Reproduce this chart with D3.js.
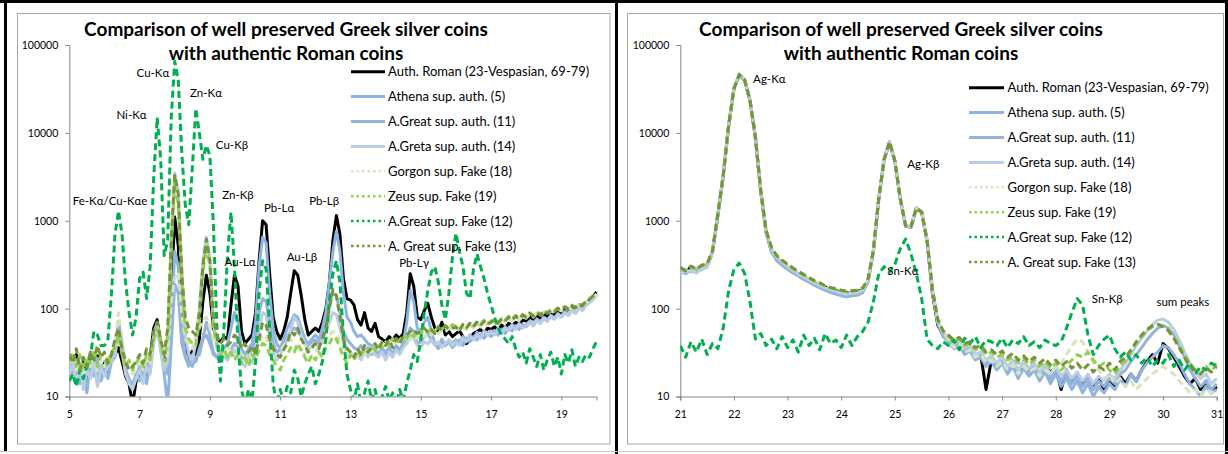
<!DOCTYPE html>
<html>
<head>
<meta charset="utf-8">
<script src="https://cdn.jsdelivr.net/npm/d3@7"></script>
<style>
  html, body { margin: 0; padding: 0; background: #fff; }
  svg { display: block; font-family: Lato, "Open Sans", "Liberation Sans", sans-serif; }
</style>
</head>
<body>
<svg id="chart" width="1228" height="454"></svg>
<script>
// Energy calibration of the sampled spectra (keV): first channel and channel width
const lowStart = 5.0;
const highStart = 21.0;
const channelStep = 0.1;

const seriesNames = [
  "Auth. Roman (23-Vespasian, 69-79)",
  "Athena sup. auth. (5)",
  "A.Great sup. auth. (11)",
  "A.Greta sup. auth. (14)",
  "Gorgon sup. Fake (18)",
  "Zeus sup. Fake (19)",
  "A.Great sup. Fake (12)",
  "A. Great sup. Fake (13)"
];
const seriesColors = ["#000000", "#8DB4E2", "#95B3D7", "#B9CDE5", "#D7E4BD", "#92D050", "#00B050", "#77933C"];
const seriesDotted = [false, false, false, false, true, true, true, true];

const titleLines = ["Comparison  of well preserved Greek silver coins", "with authentic Roman coins"];
const yTicks = [10, 100, 1000, 10000, 100000];
const lowTicks = [5, 7, 9, 11, 13, 15, 17, 19];
const highTicks = [21, 22, 23, 24, 25, 26, 27, 28, 29, 30, 31];

// counts, 5.0 - 20.0 keV
const romanLow = [
  28,22,30,18,25,14,26,20,29,17,
  24,19,27,30,36,25,17,14,8,15,
  18,22,16,28,60,75,40,24,30,150,
  1100,520,60,35,28,33,30,45,120,240,
  150,60,45,42,48,45,110,240,180,55,
  40,45,50,90,350,1000,900,250,80,55,
  45,55,80,150,270,240,140,75,50,55,
  60,55,70,100,200,600,1150,700,220,130,
  125,110,75,65,90,60,55,68,48,45,
  42,48,44,50,46,52,90,250,180,80,
  75,95,115,80,60,55,70,50,55,48,
  52,56,48,40,45,52,55,58,52,60,
  58,62,56,65,60,68,64,70,66,74,
  72,80,76,84,78,88,82,90,86,94,
  88,98,92,104,96,110,102,118,124,136,
  155
];
const athenaLow = [
  22,18,26,14,20,11,24,17,27,15,
  20,16,25,28,72,40,20,16,13,18,
  15,20,14,25,50,70,35,18,8,40,
  190,150,40,28,22,30,25,35,45,50,
  40,30,28,32,35,40,60,90,70,35,
  30,35,40,70,300,650,560,150,60,40,
  35,45,60,70,85,80,60,45,40,45,
  50,45,60,90,200,450,760,450,150,80,
  70,55,48,50,45,40,38,36,33,35,
  32,36,30,38,34,40,70,160,120,60,
  55,70,80,55,40,35,45,38,42,36,
  40,44,38,46,42,48,44,50,46,52,
  48,55,50,58,52,60,56,64,58,66,
  62,70,64,74,68,78,72,82,76,86,
  80,90,84,96,88,102,96,110,118,128,
  145
];
const greatAuthLow = [
  20,26,16,24,14,22,18,27,15,23,
  19,24,28,32,60,36,20,15,14,17,
  22,16,24,20,45,68,38,22,18,60,
  450,300,60,30,26,22,28,30,45,70,
  50,32,28,25,30,26,34,40,36,28,
  26,30,34,45,90,130,120,70,40,32,
  34,40,48,55,60,55,48,40,36,42,
  44,40,50,70,110,150,140,90,55,45,
  40,36,34,38,32,36,30,34,30,32,
  30,34,28,36,32,38,42,60,55,40,
  42,48,52,44,40,36,42,38,44,40,
  44,40,48,44,50,46,54,48,56,52,
  56,52,60,54,62,58,66,60,68,62,
  66,72,66,76,70,80,74,84,78,88,
  82,92,86,98,90,104,98,112,120,130,
  148
];
const gretaLow = [
  18,24,14,22,12,20,16,25,13,21,
  17,22,26,30,55,32,18,14,12,16,
  20,14,22,18,40,60,34,20,25,500,
  3500,2200,300,50,30,26,40,100,350,650,
  380,70,35,28,32,26,30,34,28,24,
  22,28,24,32,55,90,85,50,32,26,
  30,36,44,58,80,70,50,40,34,38,
  40,36,44,55,70,90,85,60,42,36,
  32,28,30,26,32,28,34,30,28,32,
  26,32,28,34,30,36,40,50,46,38,
  36,42,40,44,38,42,36,40,44,38,
  42,38,46,42,48,44,50,46,54,50,
  54,50,58,52,60,56,64,58,66,60,
  64,70,64,74,68,78,72,82,76,86,
  80,90,84,96,88,102,96,108,116,126,
  140
];
const gorgonLow = [
  24,30,20,28,18,26,22,30,20,26,
  22,28,30,40,90,45,26,20,18,22,
  26,20,28,24,50,65,40,24,30,120,
  220,260,90,45,40,35,50,60,75,80,
  60,45,40,35,30,38,32,28,34,30,
  26,32,28,34,40,50,48,36,30,28,
  32,38,42,45,40,36,32,30,34,38,
  32,36,40,45,50,55,52,44,36,30,
  28,32,26,34,30,36,32,38,34,40,
  36,42,38,44,40,46,48,44,50,46,
  52,48,54,50,56,52,58,54,60,56,
  60,56,62,58,66,60,68,62,70,64,
  68,72,66,74,70,78,72,80,74,82,
  78,86,80,88,82,92,86,94,90,98,
  94,102,96,106,100,110,106,118,124,134,
  145
];
const zeusLow = [
  26,32,22,30,20,28,24,34,22,30,
  26,22,32,36,50,30,22,26,20,24,
  28,22,30,26,45,60,40,25,50,500,
  2800,1500,200,60,45,40,38,70,250,520,
  300,60,40,30,35,28,32,26,30,24,
  28,22,30,26,34,40,38,30,26,22,
  20,26,30,36,32,40,34,28,24,30,
  26,32,28,36,40,48,45,36,28,24,
  30,26,34,28,36,32,38,34,40,36,
  42,38,46,40,44,50,46,52,48,56,
  52,58,54,60,56,62,58,64,60,66,
  62,58,66,60,70,64,72,66,74,68,
  72,76,70,78,74,82,76,84,78,86,
  82,90,84,92,86,96,90,98,94,102,
  98,106,100,110,104,114,110,122,130,140,
  150
];
const fake12Low = [
  15,18,13,20,16,22,28,55,50,38,
  38,45,150,700,1300,700,200,90,50,80,
  220,260,130,300,3000,15000,5000,400,600,15000,
  65000,40000,6000,1500,900,4000,19000,10000,5000,7200,
  5500,900,60,15,60,400,1250,300,40,12,
  8,12,9,25,150,350,280,60,14,8,
  12,9,13,11,20,16,10,14,18,22,
  14,18,25,45,120,250,350,200,50,18,
  12,9,14,8,11,15,9,12,8,10,
  13,9,11,8,12,9,14,20,30,25,
  45,90,160,260,300,200,110,75,150,380,
  720,450,300,150,130,280,420,300,220,150,
  110,80,60,50,45,40,48,35,28,32,
  24,35,28,22,30,20,26,32,22,28,
  18,30,24,34,22,28,25,30,28,35,
  42
];
const fake13Low = [
  30,24,35,20,28,22,32,26,38,28,
  32,24,30,45,60,35,25,20,22,25,
  30,24,35,30,55,70,45,30,60,600,
  3300,2000,250,80,60,55,50,90,300,620,
  350,80,50,40,45,38,42,50,45,35,
  40,32,38,30,45,70,65,45,35,30,
  28,34,40,55,50,60,45,38,32,36,
  40,35,45,60,100,165,140,80,45,35,
  32,28,35,30,38,32,36,40,34,42,
  38,44,36,46,40,48,50,55,58,52,
  56,60,54,58,52,62,56,64,58,60,
  62,56,66,60,68,62,70,64,72,66,
  70,74,68,76,72,80,74,82,76,84,
  80,88,82,90,84,94,88,96,92,100,
  96,104,98,108,102,112,108,120,128,138,
  155
];

// counts, 21.0 - 31.0 keV
const romanHigh = [
  290,255,300,262,310,305,440,1150,3200,11800,
  31500,45500,39500,23000,8800,2150,740,450,360,320,
  290,280,240,236,205,200,180,178,160,162,
  150,152,148,158,162,205,450,1780,4950,7800,
  4750,1780,870,840,1380,1240,590,150,65,50,
  45,38,42,33,36,28,30,12,26,22,
  28,20,24,18,25,20,23,17,22,19,
  21,12,20,15,18,14,17,13,16,12,
  15,13,17,14,18,15,20,25,30,24,
  40,35,28,22,17,14,16,12,15,11,
  13
];
const athenaHigh = [
  260,250,275,255,285,300,430,1180,3300,12000,
  32000,46500,40000,23500,9000,2200,720,440,350,310,
  280,255,235,215,200,185,172,162,152,146,
  140,136,140,142,152,200,450,1800,5000,7900,
  4800,1800,870,840,1400,1260,610,165,68,48,
  42,35,38,30,33,26,28,22,25,20,
  24,18,22,16,21,17,20,15,19,14,
  18,13,16,12,15,11,14,10,13,11,
  14,12,16,13,18,15,20,24,28,32,
  38,36,30,24,18,14,12,10,13,11,
  12
];
const greatAuthHigh = [
  270,275,262,285,278,310,445,1190,3300,12000,
  32000,46000,40000,23500,9000,2200,740,460,370,330,
  295,265,250,225,210,192,182,170,162,155,
  148,146,150,150,160,208,460,1800,5000,7900,
  4800,1800,880,850,1400,1250,600,160,70,50,
  44,37,40,32,35,27,30,24,27,22,
  26,20,24,18,23,19,22,17,21,16,
  20,15,18,14,17,13,16,12,15,13,
  16,14,18,20,25,30,36,44,52,60,
  64,60,50,38,28,20,16,13,15,12,
  14
];
const gretaHigh = [
  250,262,270,258,280,295,440,1200,3350,12200,
  32500,47000,40500,24000,9200,2250,760,470,380,340,
  300,272,248,230,212,196,184,172,164,158,
  150,146,150,152,162,212,470,1820,5050,8000,
  4850,1820,890,860,1420,1270,610,170,74,54,
  46,40,43,35,38,30,32,26,29,24,
  28,22,26,20,25,21,24,19,23,18,
  22,17,20,16,19,15,18,14,17,15,
  18,16,20,24,30,38,46,56,66,74,
  76,70,58,44,32,24,19,16,18,14,
  16
];
const gorgonHigh = [
  285,270,295,275,305,318,450,1200,3300,12000,
  32000,46000,40000,23500,9000,2200,760,480,390,345,
  310,280,258,238,218,202,190,178,170,162,
  158,152,156,158,168,212,460,1800,5000,7900,
  4800,1800,880,850,1400,1250,600,160,72,54,
  44,36,40,32,34,28,30,24,26,22,
  25,20,23,18,22,19,21,17,20,18,
  22,24,30,38,45,42,32,24,20,16,
  18,14,16,13,15,12,14,16,18,20,
  22,20,18,15,13,11,12,10,12,11,
  12
];
const zeusHigh = [
  290,272,298,280,310,322,455,1210,3300,12000,
  32000,46000,40000,23500,9000,2200,770,490,395,350,
  315,285,262,240,222,205,194,180,172,165,
  160,155,158,160,170,215,465,1800,5000,7900,
  4800,1800,880,850,1400,1250,600,165,74,55,
  48,42,45,38,40,34,36,30,32,28,
  30,26,28,24,27,23,26,22,25,21,
  24,20,23,26,30,28,32,26,22,24,
  20,18,22,26,32,40,48,56,62,66,
  64,58,48,38,30,24,20,18,22,19,
  24
];
const fake12High = [
  38,28,42,32,45,30,40,35,60,160,
  280,330,250,120,45,52,38,45,35,48,
  36,44,32,50,38,46,34,52,40,44,
  36,50,38,48,55,70,120,250,300,260,
  320,480,620,420,250,130,45,38,35,42,
  38,44,34,46,40,48,36,44,42,38,
  46,36,44,40,48,38,42,36,44,40,
  38,42,60,90,130,110,50,30,38,45,
  50,35,28,32,26,30,24,28,22,26,
  24,30,22,26,20,24,18,22,20,24,
  22
];
const fake13High = [
  295,268,305,282,312,325,455,1200,3300,12000,
  32000,46000,40000,23500,9000,2200,780,500,400,355,
  320,290,265,245,225,208,196,182,174,168,
  162,158,160,162,172,218,465,1800,5000,7900,
  4800,1800,880,850,1400,1250,600,165,76,56,
  50,44,47,40,42,36,38,32,34,30,
  33,28,31,26,29,25,28,24,27,23,
  26,22,25,21,24,20,23,19,22,20,
  24,20,25,28,34,42,50,58,64,66,
  62,56,46,36,28,22,20,18,21,19,
  22
];

// line annotations: [text, energy keV, counts] giving the label centre
const lowLabels = [
  ["Fe-K\u03b1/Cu-K\u03b1e", 6.16, 1690],
  ["Ni-K\u03b1", 6.77, 16100],
  ["Cu-K\u03b1", 7.38, 48600],
  ["Zn-K\u03b1", 8.89, 28800],
  ["Cu-K\u03b2", 9.63, 7350],
  ["Zn-K\u03b2", 9.80, 1980],
  ["Pb-L\u03b1", 10.97, 1410],
  ["Pb-L\u03b2", 12.25, 1660],
  ["Au-L\u03b1", 9.86, 341],
  ["Au-L\u03b2", 11.62, 382],
  ["Pb-L\u03b3", 14.81, 332]
];
const highLabels = [
  ["Ag-K\u03b1", 22.66, 40500],
  ["Ag-K\u03b2", 25.53, 4460],
  ["Sn-K\u03b1", 25.15, 269],
  ["Sn-K\u03b2", 28.96, 129],
  ["sum peaks", 30.37, 120]
];

const lowSeries = [romanLow, athenaLow, greatAuthLow, gretaLow, gorgonLow, zeusLow, fake12Low, fake13Low];
const highSeries = [romanHigh, athenaHigh, greatAuthHigh, gretaHigh, gorgonHigh, zeusHigh, fake12High, fake13High];

const svg = d3.select("#chart");
const axisColor = "#868686";

function drawPanel(cfg, idx) {
  const g = svg.append("g");

  // chart-area frame
  g.append("rect")
    .attr("x", cfg.frame[0]).attr("y", cfg.frame[1])
    .attr("width", cfg.frame[2]).attr("height", cfg.frame[3])
    .attr("fill", "none").attr("stroke", "#A6A6A6").attr("stroke-width", 1);

  const x = d3.scaleLinear().domain(cfg.domain).range(cfg.xRange);
  const y = d3.scaleLog().domain([10, 100000]).range([396.5, 45]);

  const gx = g.append("g")
    .attr("transform", `translate(0,${y(10)})`)
    .call(d3.axisBottom(x).tickValues(cfg.ticks).tickSize(4).tickPadding(10).tickFormat(d3.format("d")));
  const gy = g.append("g")
    .attr("transform", `translate(${x(cfg.domain[0])},0)`)
    .call(d3.axisLeft(y).tickValues(yTicks).tickSize(4).tickPadding(7).tickFormat(d => String(d)));
  [gx, gy].forEach(a => {
    a.select(".domain").attr("stroke", axisColor);
    a.selectAll(".tick line").attr("stroke", axisColor);
    a.selectAll(".tick text").attr("fill", "#000").attr("font-size", "10.5px").attr("font-family", "Lato, sans-serif");
  });

  const clipId = "plotclip" + idx;
  g.append("clipPath").attr("id", clipId).append("rect")
    .attr("x", cfg.xRange[0]).attr("y", 40)
    .attr("width", cfg.xRange[1] - cfg.xRange[0] + 1).attr("height", 396.5 - 40);

  const line = d3.line()
    .x(d => x(d[0]))
    .y(d => y(Math.max(d[1], 1)));

  const plot = g.append("g").attr("clip-path", `url(#${clipId})`);
  cfg.series.forEach((vals, k) => {
    const pts = vals.map((v, i) => [cfg.start + i * channelStep, v]);
    plot.append("path")
      .datum(pts)
      .attr("d", line)
      .attr("fill", "none")
      .attr("stroke", seriesColors[k])
      .attr("stroke-width", 3)
      .attr("stroke-linejoin", "round")
      .attr("stroke-dasharray", seriesDotted[k] ? "7,4" : null);
  });

  // line annotations
  g.selectAll("text.peak").data(cfg.labels).enter().append("text")
    .attr("class", "peak")
    .attr("x", d => x(d[1]))
    .attr("y", d => y(d[2]) + 4)
    .attr("text-anchor", "middle")
    .attr("font-size", "11.5px")
    .attr("fill", "#000")
    .text(d => d[0]);

  // legend
  const lg = g.append("g");
  seriesNames.forEach((name, k) => {
    const ly = cfg.legend.y + k * cfg.legend.dy;
    lg.append("line")
      .attr("x1", cfg.legend.x1).attr("x2", cfg.legend.x2)
      .attr("y1", ly).attr("y2", ly)
      .attr("stroke", seriesColors[k])
      .attr("stroke-width", seriesDotted[k] ? 2.5 : 3)
      .attr("stroke-dasharray", seriesDotted[k] ? "2.5,3" : null);
    lg.append("text")
      .attr("x", cfg.legend.tx).attr("y", ly + 4.5)
      .attr("font-size", "13px").attr("fill", "#000")
      .text(name);
  });

  // title
  titleLines.forEach((t, i) => {
    g.append("text")
      .attr("x", cfg.titleX).attr("y", 35.5 + i * 24.5)
      .attr("text-anchor", "middle")
      .attr("font-size", "19px").attr("font-weight", "bold").attr("fill", "#000")
      .text(t);
  });
}

drawPanel({
  frame: [17.5, 13.5, 592.5, 430.5],
  domain: [5, 20], xRange: [69.3, 596.5],
  ticks: lowTicks, start: lowStart, series: lowSeries, labels: lowLabels,
  legend: { x1: 351, x2: 385, tx: 388, y: 71.7, dy: 24.9 },
  titleX: 286
}, 0);

drawPanel({
  frame: [627.5, 13.5, 596, 430.5],
  domain: [21, 31], xRange: [680.3, 1216.7],
  ticks: highTicks, start: highStart, series: highSeries, labels: highLabels,
  legend: { x1: 969, x2: 1004, tx: 1007.5, y: 87.7, dy: 24.9 },
  titleX: 901
}, 1);

// outer sheet borders
const frame = svg.append("g").attr("stroke", "#000").attr("stroke-width", 3);
frame.append("line").attr("x1", 0).attr("x2", 1228).attr("y1", 1.5).attr("y2", 1.5);
frame.append("line").attr("x1", 5.5).attr("x2", 5.5).attr("y1", 0).attr("y2", 452);
frame.append("line").attr("x1", 616.5).attr("x2", 616.5).attr("y1", 0).attr("y2", 454);
frame.append("line").attr("x1", 1226.5).attr("x2", 1226.5).attr("y1", 0).attr("y2", 454);
svg.append("line").attr("x1", 0).attr("x2", 1228).attr("y1", 451.5).attr("y2", 451.5)
  .attr("stroke", "#C8C8C8").attr("stroke-width", 1);
</script>
</body>
</html>
